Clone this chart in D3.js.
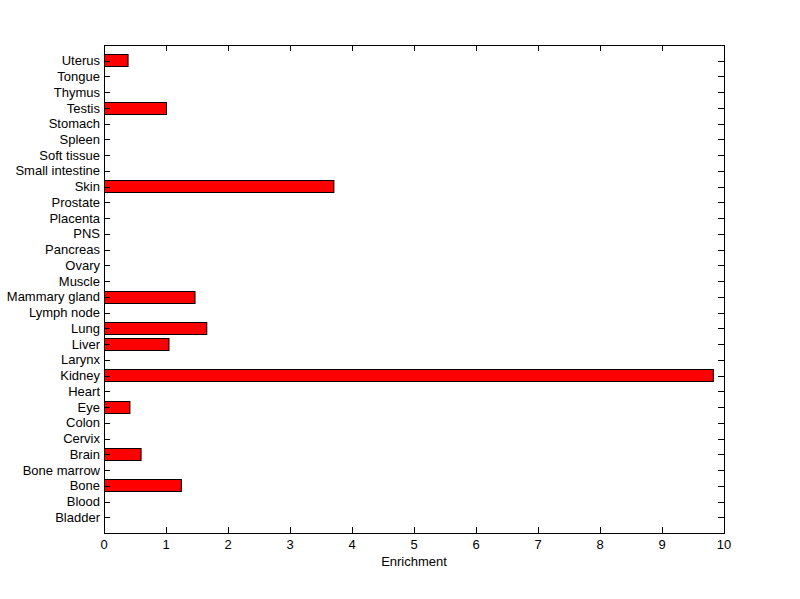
<!DOCTYPE html>
<html><head><meta charset="utf-8">
<script src="https://cdn.jsdelivr.net/npm/d3@7"></script>
<style>body{margin:0;background:#fff;} svg{display:block;} text{font-family:"Liberation Sans",Arial,sans-serif;font-size:13px;fill:#000;}</style>
</head><body>
<svg id="c" width="800" height="599"></svg>
<script>
const categories = ["Bladder","Blood","Bone","Bone marrow","Brain","Cervix","Colon","Eye","Heart","Kidney","Larynx","Liver","Lung","Lymph node","Mammary gland","Muscle","Ovary","Pancreas","PNS","Placenta","Prostate","Skin","Small intestine","Soft tissue","Spleen","Stomach","Testis","Thymus","Tongue","Uterus"];
const values = [0,0,1.24,0,0.59,0,0,0.41,0,9.82,0,1.04,1.65,0,1.46,0,0,0,0,0,0,3.70,0,0,0,0,1.0,0,0,0.38];
const xTicks = [0,1,2,3,4,5,6,7,8,9,10];
const xLabel = "Enrichment";

const svg = d3.select("#c");
const L=104, R=724, T=45, B=533;
const x = d3.scaleLinear().domain([0,10]).range([L,R]);
const y = d3.scaleLinear().domain([0,categories.length+1]).range([B,T]);
const bw = (y(0)-y(0.8));

const barData = values.map((v,i)=>({v,i})).filter(d=>d.v>0);
// bars
svg.append("g").selectAll("rect").data(barData)
 .join("rect")
 .attr("x",x(0)+0.5).attr("y",d=>Math.round(y(d.i+1)-bw/2)+0.5)
 .attr("width",d=>x(d.v)-x(0)).attr("height",Math.round(bw)-1)
 .attr("fill","#ff0000").attr("stroke","#000").attr("stroke-width",1);

// frame
svg.append("rect").attr("x",L+0.5).attr("y",T+0.5).attr("width",R-L).attr("height",B-T)
 .attr("fill","none").attr("stroke","#000").attr("stroke-width",1);

const tl=6;
// y ticks
const yt = d3.range(1,categories.length+1);
const g = svg.append("g").attr("stroke","#000").attr("stroke-width",1);
yt.forEach(t=>{
  const yy=Math.round(y(t))+0.5;
  g.append("line").attr("x1",L).attr("x2",L+tl).attr("y1",yy).attr("y2",yy);
  g.append("line").attr("x1",R).attr("x2",R-tl).attr("y1",yy).attr("y2",yy);
});
xTicks.forEach(t=>{
  const xx=Math.round(x(t))+0.5;
  g.append("line").attr("x1",xx).attr("x2",xx).attr("y1",B).attr("y2",B-tl);
  g.append("line").attr("x1",xx).attr("x2",xx).attr("y1",T).attr("y2",T+tl);
});
// labels
svg.append("g").selectAll("text").data(categories).join("text")
 .attr("x",L-4).attr("y",(d,i)=>y(i+1)).attr("dy","0.35em").attr("text-anchor","end").text(d=>d);
svg.append("g").selectAll("text").data(xTicks).join("text")
 .attr("x",d=>x(d)).attr("y",549).attr("text-anchor","middle").text(d=>d);
svg.append("text").attr("x",(L+R)/2).attr("y",566).attr("text-anchor","middle").text(xLabel);
</script>
</body></html>
